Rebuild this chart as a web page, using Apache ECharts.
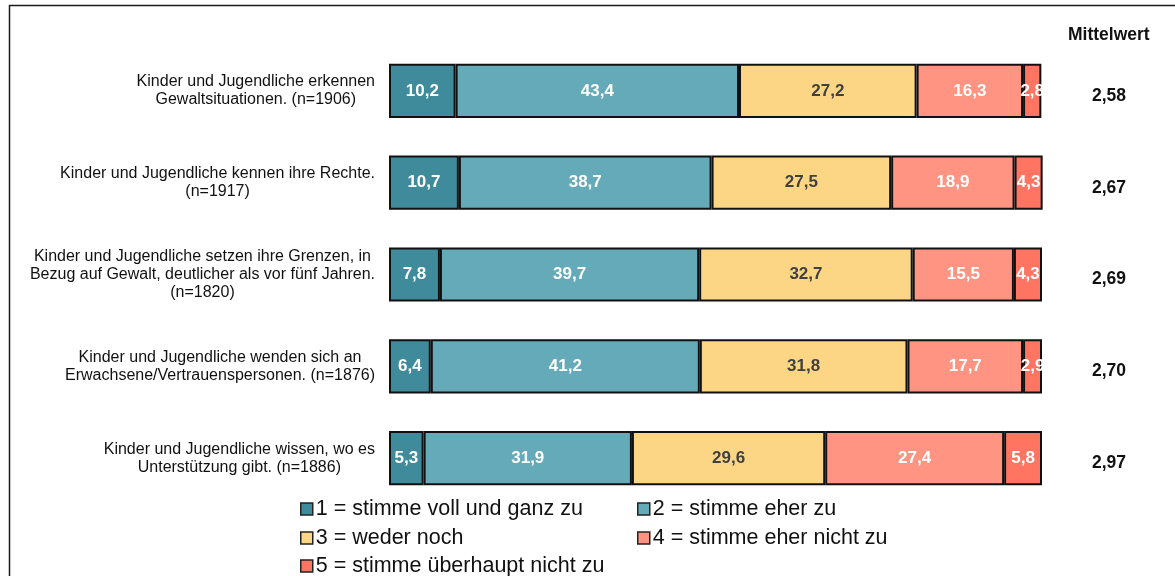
<!DOCTYPE html>
<html>
<head>
<meta charset="utf-8">
<script src="https://cdn.jsdelivr.net/npm/echarts@6/dist/echarts.min.js"></script>
<style>
html,body{margin:0;padding:0;background:#fff;}
#chart{width:1175px;height:576px;}
</style>
</head>
<body>
<div id="chart"></div>
<script>
const categories = [
  "Kinder und Jugendliche erkennen\nGewaltsituationen. (n=1906)",
  "Kinder und Jugendliche kennen ihre Rechte.\n(n=1917)",
  "Kinder und Jugendliche setzen ihre Grenzen, in\nBezug auf Gewalt, deutlicher als vor fünf Jahren.\n(n=1820)",
  "Kinder und Jugendliche wenden sich an\nErwachsene/Vertrauenspersonen. (n=1876)",
  "Kinder und Jugendliche wissen, wo es\nUnterstützung gibt. (n=1886)"
];
const means = ["2,58", "2,67", "2,69", "2,70", "2,97"];
const seriesNames = [
  "1 = stimme voll und ganz zu",
  "2 = stimme eher zu",
  "3 = weder noch",
  "4 = stimme eher nicht zu",
  "5 = stimme überhaupt nicht zu"
];
const s1 = [10.2, 10.7, 7.8, 6.4, 5.3];
const s2 = [43.4, 38.7, 39.7, 41.2, 31.9];
const s3 = [27.2, 27.5, 32.7, 31.8, 29.6];
const s4 = [16.3, 18.9, 15.5, 17.7, 27.4];
const s5 = [2.8, 4.3, 4.3, 2.9, 5.8];

const colors = ["#3f8b9b", "#65aab9", "#fdd685", "#ff9483", "#ff7561"];
const labelColors = ["#ffffff", "#ffffff", "#404040", "#ffffff", "#ffffff"];
const values = [s1, s2, s3, s4, s5];

const FONT = "Arial, 'Liberation Sans', sans-serif";

const chart = echarts.init(document.getElementById('chart'), null, {renderer: 'canvas'});

const series = values.map((arr, i) => ({
  name: seriesNames[i],
  type: 'bar',
  stack: 'total',
  barWidth: '59%',
  data: arr,
  itemStyle: {color: colors[i], borderColor: '#111111', borderWidth: 2},
  label: {
    show: true,
    position: 'inside',
    color: labelColors[i],
    fontFamily: FONT,
    fontWeight: 'bold',
    fontSize: 17,
    formatter: p => p.value.toFixed(1).replace('.', ',')
  },
  emphasis: {disabled: true}
}));

// legend layout: column x and row y positions
const legendCols = [300, 637];
const legendRows = [498, 527, 555];
const legendSlots = [[0, 0], [1, 0], [0, 1], [1, 1], [0, 2]];

const legends = seriesNames.map((name, i) => ({
  data: [name],
  left: legendCols[legendSlots[i][0]],
  top: legendRows[legendSlots[i][1]],
  padding: 0,
  itemWidth: 12,
  itemHeight: 12,
  icon: 'rect',
  itemStyle: {borderColor: '#222', borderWidth: 1.5},
  textStyle: {fontFamily: FONT, fontSize: 21.5, color: '#111', padding: [0, 0, 0, -2]},
  selectedMode: false
}));

chart.setOption({
  animation: false,
  backgroundColor: '#ffffff',
  title: {
    text: 'Mittelwert',
    left: 1068,
    top: 26,
    padding: 0,
    textStyle: {fontFamily: FONT, fontWeight: 'bold', fontSize: 17.5, color: '#111'}
  },
  legend: legends,
  grid: {left: 389, right: 133, top: 45, bottom: 72, containLabel: false},
  xAxis: {
    type: 'value', min: 0, max: 100,
    show: false
  },
  yAxis: [
    {
      type: 'category',
      data: categories,
      inverse: true,
      axisLine: {show: false},
      axisTick: {show: false},
      axisLabel: {
        margin: 14,
        align: 'right',
        formatter: v => v.split('\n').map(l => '{c|' + l + '}').join('\n'),
        rich: {
          c: {align: 'center', fontFamily: FONT, fontSize: 16, lineHeight: 18, color: '#111'}
        }
      }
    },
    {
      type: 'category',
      data: means,
      inverse: true,
      position: 'right',
      axisLine: {show: false},
      axisTick: {show: false},
      axisLabel: {
        margin: 67,
        align: 'center',
        formatter: v => '{m|' + v + '}',
        rich: {
          m: {fontFamily: FONT, fontWeight: 'bold', fontSize: 17.5, color: '#111', padding: [10, 0, 0, 0]}
        }
      }
    }
  ],
  graphic: [{
    type: 'polyline',
    shape: {points: [[9.5, 600], [9.5, 5.5], [1200, 5.5]]},
    style: {stroke: '#1a1a1a', lineWidth: 1.5, fill: null},
    silent: true
  }],
  series: series
});
</script>
</body>
</html>
